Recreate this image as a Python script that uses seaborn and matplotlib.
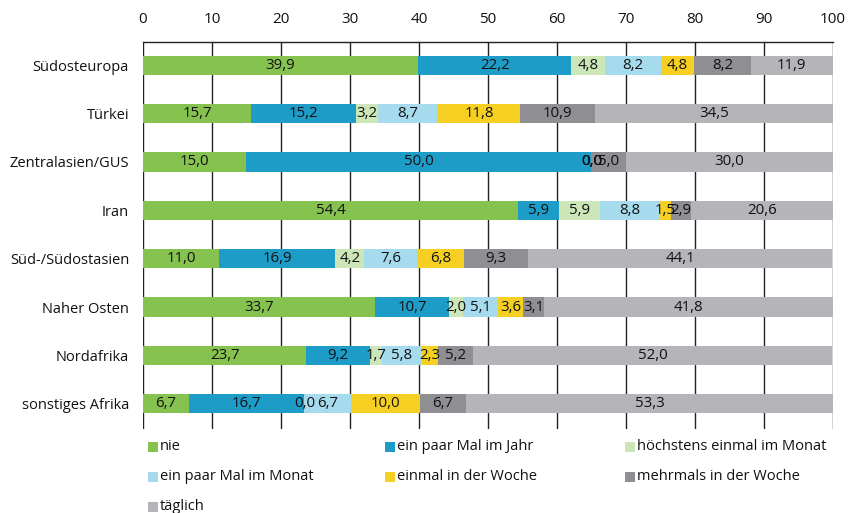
import numpy as np
import pandas as pd
import matplotlib
matplotlib.use("Agg")
import matplotlib.pyplot as plt
import seaborn as sns
from matplotlib.patches import Rectangle

regions = ["Südosteuropa", "Türkei", "Zentralasien/GUS", "Iran",
           "Süd-/Südostasien", "Naher Osten", "Nordafrika", "sonstiges Afrika"]
categories = ["nie", "ein paar Mal im Jahr", "höchstens einmal im Monat",
              "ein paar Mal im Monat", "einmal in der Woche",
              "mehrmals in der Woche", "täglich"]

nie = [39.9, 15.7, 15.0, 54.4, 11.0, 33.7, 23.7, 6.7]
jahr = [22.2, 15.2, 50.0, 5.9, 16.9, 10.7, 9.2, 16.7]
hoechstens = [4.8, 3.2, 0.0, 5.9, 4.2, 2.0, 1.7, 0.0]
monat = [8.2, 8.7, 0.0, 8.8, 7.6, 5.1, 5.8, 6.7]
einmal_woche = [4.8, 11.8, 0.0, 1.5, 6.8, 3.6, 2.3, 10.0]
mehrmals_woche = [8.2, 10.9, 5.0, 2.9, 9.3, 3.1, 5.2, 6.7]
taeglich = [11.9, 34.5, 30.0, 20.6, 44.1, 41.8, 52.0, 53.3]

colors = ["#86c24f", "#1e9cc8", "#cde6b8", "#a6dbee",
          "#f5d022", "#8e8e93", "#b5b5b9"]

df = pd.DataFrame(np.array([nie, jahr, hoechstens, monat, einmal_woche,
                            mehrmals_woche, taeglich]).T,
                  index=regions, columns=categories)
cum = df.cumsum(axis=1)

sns.set_theme(style="white")
plt.rcParams['font.family'] = ['Open Sans', 'DejaVu Sans']

fig = plt.figure(figsize=(8.49, 5.13), dpi=100)
ax = fig.add_axes([0.1684, 0.164, 0.8126, 0.754])

# stacked bars: draw cumulative totals from the last segment backwards
for i in range(len(categories) - 1, -1, -1):
    col = categories[i]
    sns.barplot(x=cum[col].values, y=regions, orient="h", color=colors[i],
                width=0.4, saturation=1, ax=ax, zorder=3, linewidth=0)

for r, reg in enumerate(regions):
    for col in categories:
        v = df.loc[reg, col]
        x = cum.loc[reg, col] - v / 2
        ax.text(x, r, f"{v:.1f}".replace(".", ","), ha="center", va="center",
                fontsize=10.8, color="#111111", zorder=4)

ax.set_xlim(0, 100)
ax.set_ylim(7.52, -0.48)
ax.set_xticks(range(0, 101, 10))
ax.xaxis.tick_top()
ax.tick_params(axis="x", length=0, pad=11, labelsize=11, colors="#111111")
ax.tick_params(axis="y", length=0, pad=10, labelsize=10.5, colors="#111111")
ax.set_xlabel("")
ax.set_ylabel("")
ax.grid(axis="x", color="#222222", linewidth=1, zorder=1)
ax.set_axisbelow(True)
for s in ["left", "right", "bottom"]:
    ax.spines[s].set_visible(False)
ax.spines["top"].set_color("#222222")
ax.spines["top"].set_linewidth(1)

# legend laid out in three columns below the plot
leg_x = [148, 385, 625]
leg_y = [447, 477, 507]
W, H = 849, 513
for k, col in enumerate(categories):
    row, c = divmod(k, 3)
    x0 = leg_x[c] / W
    y0 = 1 - leg_y[row] / H
    fig.add_artist(Rectangle((x0, y0 - 5 / H), 10 / W, 10 / H,
                             transform=fig.transFigure, color=colors[k], lw=0))
    fig.text(x0 + 12 / W, y0, col, ha="left", va="center", fontsize=10.5,
             color="#111111")

fig.savefig("out.png", dpi=100)
